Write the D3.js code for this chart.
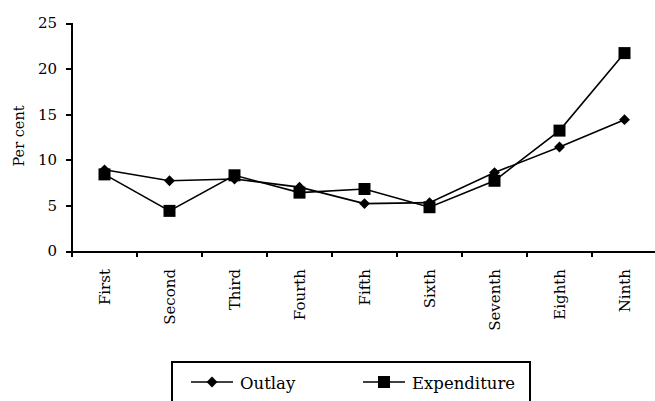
<!DOCTYPE html>
<html lang="en">
<head>
    <meta charset="UTF-8">
    <title>Outlay and Expenditure</title>
    <script src="https://cdnjs.cloudflare.com/ajax/libs/d3/7.8.5/d3.min.js"></script>
    <style>
        body { margin: 0; background: #fff; }
        svg { display: block; }
        svg text { font-family: "DejaVu Serif", serif; fill: #000; }
        .axis path, .axis line { stroke: #000; stroke-width: 2; shape-rendering: crispEdges; }
        .axis text { font-size: 15px; font-family: "DejaVu Serif", serif; }
    </style>
</head>
<body>
<div id="chart"></div>
<script>
    // Data
    const categories = ["First", "Second", "Third", "Fourth", "Fifth", "Sixth", "Seventh", "Eighth", "Ninth"];
    const outlay = [8.9, 7.7, 7.9, 7.0, 5.2, 5.3, 8.6, 11.4, 14.4];
    const expenditure = [8.4, 4.4, 8.3, 6.4, 6.8, 4.8, 7.7, 13.2, 21.7];
    const yTicks = [0, 5, 10, 15, 20, 25];

    const width = 655, height = 401;
    const margin = { top: 23, right: -2, bottom: 150, left: 72 };
    const chartWidth = width - margin.left - margin.right;
    const chartHeight = height - margin.top - margin.bottom;

    const svg = d3.select("#chart").append("svg")
        .attr("width", width)
        .attr("height", height);

    const chart = svg.append("g")
        .attr("transform", `translate(${margin.left},${margin.top})`);

    const x = d3.scaleBand().domain(categories).range([0, chartWidth]).padding(0);
    const y = d3.scaleLinear().domain([0, 25]).range([chartHeight, 0]);

    // y axis
    const yAxis = chart.append("g")
        .attr("class", "axis")
        .call(d3.axisLeft(y).tickValues(yTicks).tickSize(6).tickPadding(9));
    yAxis.select(".domain").attr("d", `M0,${y(25)}V${chartHeight}`);
    yAxis.attr("font-family", null);

    // x axis, ticks on band edges
    const xAxis = chart.append("g")
        .attr("class", "axis")
        .attr("transform", `translate(0,${chartHeight})`)
        .call(d3.axisBottom(x).tickSize(0).tickSizeOuter(0).tickPadding(0));
    xAxis.attr("font-family", null);
    xAxis.selectAll(".tick text")
        .attr("transform", "rotate(-90)")
        .attr("text-anchor", "end")
        .attr("dy", "0.35em")
        .attr("x", -18)
        .attr("y", 0)
        .style("font-size", "15px");
    xAxis.selectAll(".edge")
        .data(categories)
        .enter().append("line")
        .attr("x1", d => x(d)).attr("x2", d => x(d))
        .attr("y1", 0).attr("y2", 6)
        .attr("stroke", "#000").attr("stroke-width", 2);

    const cx = d => x(d) + x.bandwidth() / 2;
    const line = d3.line()
        .x((d, i) => cx(categories[i]))
        .y(d => y(d));

    // lines
    [outlay, expenditure].forEach(series => {
        chart.append("path")
            .datum(series)
            .attr("fill", "none")
            .attr("stroke", "#000")
            .attr("stroke-width", 1.6)
            .attr("d", line);
    });

    const diamond = d3.symbol().type(d3.symbolDiamond2).size(75);
    const square = d3.symbol().type(d3.symbolSquare).size(144);

    chart.selectAll(".outlay")
        .data(outlay)
        .enter().append("path")
        .attr("class", "outlay")
        .attr("d", diamond)
        .attr("transform", (d, i) => `translate(${cx(categories[i])},${y(d)})`)
        .attr("fill", "#000");

    chart.selectAll(".expenditure")
        .data(expenditure)
        .enter().append("path")
        .attr("class", "expenditure")
        .attr("d", square)
        .attr("transform", (d, i) => `translate(${cx(categories[i])},${y(d)})`)
        .attr("fill", "#000");

    // y label
    svg.append("text")
        .attr("transform", `translate(24,136) rotate(-90)`)
        .attr("text-anchor", "middle")
        .style("font-size", "14.5px")
        .text("Per cent");

    // legend
    const legend = svg.append("g");
    legend.append("rect")
        .attr("x", 172).attr("y", 362)
        .attr("width", 358).attr("height", 60)
        .attr("fill", "#fff").attr("stroke", "#000").attr("stroke-width", 2);

    const items = [
        { name: "Outlay", sym: diamond, x0: 191 },
        { name: "Expenditure", sym: square, x0: 363 }
    ];
    items.forEach(it => {
        legend.append("line")
            .attr("x1", it.x0).attr("x2", it.x0 + 42)
            .attr("y1", 382).attr("y2", 382)
            .attr("stroke", "#000").attr("stroke-width", 1.6);
        legend.append("path")
            .attr("d", it.sym)
            .attr("transform", `translate(${it.x0 + 21},382)`)
            .attr("fill", "#000");
        legend.append("text")
            .attr("x", it.x0 + 49).attr("y", 389)
            .style("font-size", "16.5px")
            .text(it.name);
    });
</script>
</body>
</html>
